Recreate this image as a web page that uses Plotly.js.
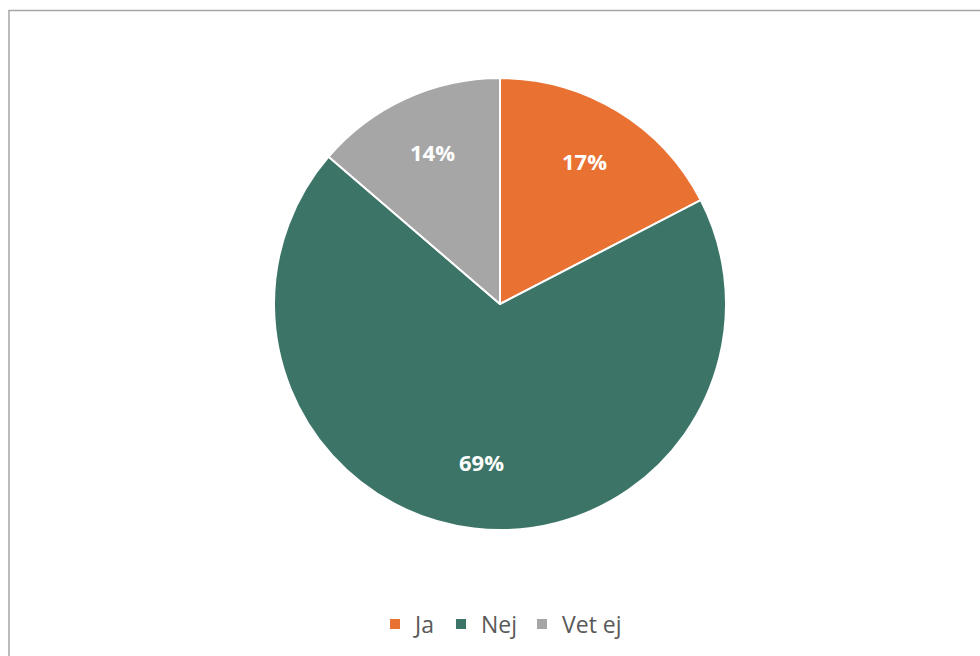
<!DOCTYPE html>
<html>
<head>
<meta charset="utf-8">
<script src="https://cdn.plot.ly/plotly-3.0.1.min.js"></script>
<style>
html,body{margin:0;padding:0;background:#fff;}
#chart{width:980px;height:656px;}
</style>
</head>
<body>
<div id="chart"></div>
<script>
const categories = ["Ja", "Nej", "Vet ej"];
const values = [17.4, 68.9, 13.7];
const colors = ["#E97132", "#3C7568", "#A6A6A6"];

const W = 980, H = 656;
const cx = 500, cy = 304, r = 226;
const labelR = 0.72 * r;
const FONT = "Open Sans, Noto Sans, sans-serif";

const total = values.reduce((a, b) => a + b, 0);
let cum = 0;
const annotations = values.map((v) => {
  const mid = (cum + v / 2) / total * 2 * Math.PI;
  cum += v;
  return {
    xref: "paper", yref: "paper",
    x: (cx + labelR * Math.sin(mid)) / W,
    y: 1 - (cy - 4 - labelR * Math.cos(mid)) / H,
    xanchor: "center", yanchor: "middle",
    text: "<b>" + Math.round(v / total * 100) + "%</b>",
    showarrow: false,
    font: {family: FONT, size: 22, color: "#ffffff"}
  };
});

const trace = {
  type: "pie",
  labels: categories,
  values: values,
  sort: false,
  direction: "clockwise",
  rotation: 0,
  marker: {colors: colors, line: {color: "#ffffff", width: 2}},
  textinfo: "none",
  textposition: "none",
  hoverinfo: "label+percent",
  domain: {x: [(cx - r) / W, (cx + r) / W], y: [1 - (cy + r) / H, 1 - (cy - r) / H]}
};

const layout = {
  width: W, height: H,
  margin: {l: 0, r: 0, t: 0, b: 0},
  paper_bgcolor: "#ffffff",
  showlegend: true,
  legend: {
    orientation: "h",
    x: 501 / W, xanchor: "center",
    y: 1 - 624 / H, yanchor: "middle",
    font: {family: FONT, size: 23, color: "#595959"},
    traceorder: "normal"
  },
  annotations: annotations,
  shapes: [{
    type: "rect", xref: "paper", yref: "paper",
    x0: 9 / W, x1: 1.2, y0: -0.2, y1: 1 - 10.5 / H,
    line: {color: "#A6A6A6", width: 1.5}, fillcolor: "rgba(0,0,0,0)", layer: "above"
  }]
};

Plotly.newPlot("chart", [trace], layout, {displayModeBar: false, staticPlot: true});
</script>
</body>
</html>
